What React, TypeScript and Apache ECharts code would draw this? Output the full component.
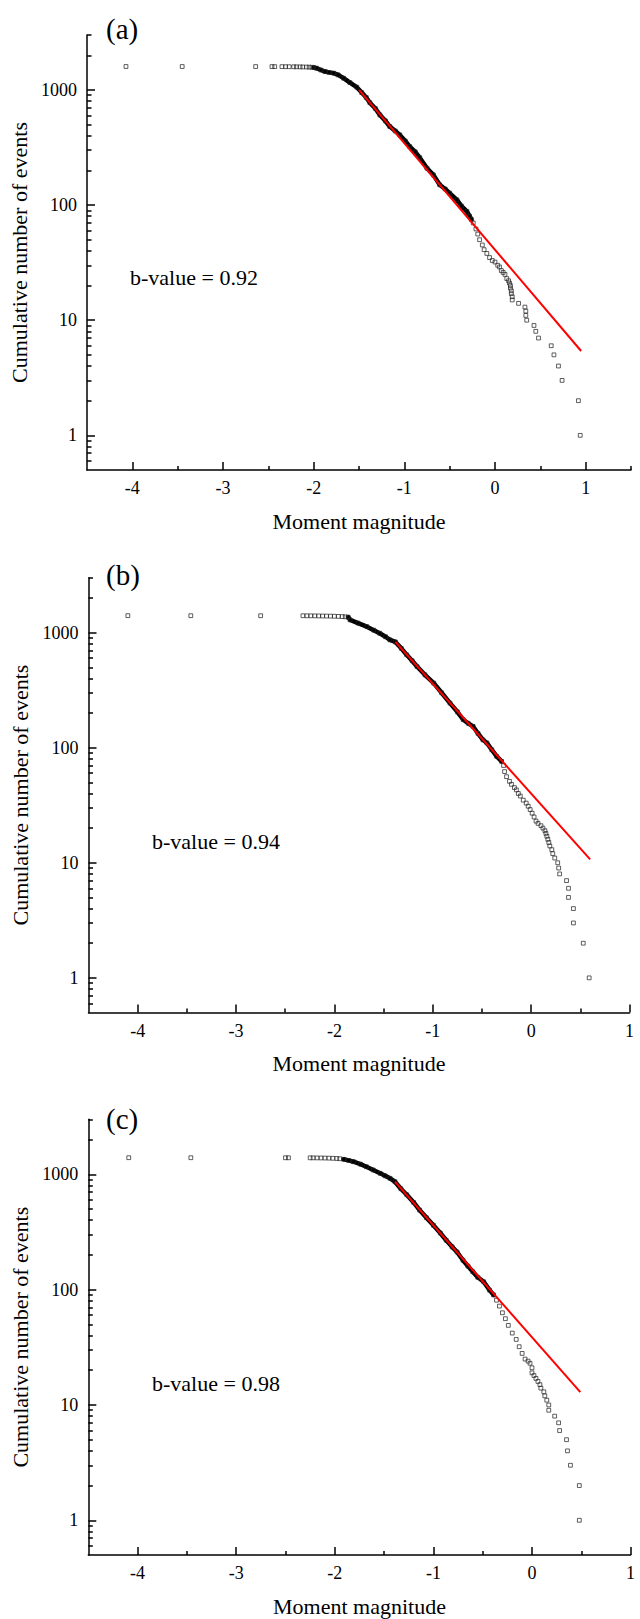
import React, { useEffect, useRef } from "react";
import * as echarts from "echarts";

const FONT = "'Liberation Serif', 'Times New Roman', serif";

// ---------- Panel (a) ----------
const aHead = [[-4.07,1598],[-3.45,1597],[-2.64,1596],[-2.46,1595],[-2.43,1594],[-2.35,1593],[-2.31,1592],[-2.27,1591],[-2.22,1589],[-2.19,1588],[-2.15,1586],[-2.12,1584],[-2.08,1581],[-2.05,1578],[-2.02,1574]];
const aDense = [[-2.0,1565],[-1.97,1545],[-1.92,1490],[-1.875,1445],[-1.83,1420],[-1.78,1399],[-1.73,1352],[-1.67,1265],[-1.6,1158],[-1.525,1057],[-1.47,948],[-1.42,860],[-1.38,775],[-1.32,690],[-1.27,607],[-1.21,540],[-1.16,481],[-1.1,440],[-1.05,407],[-0.99,360],[-0.94,322],[-0.88,290],[-0.83,258],[-0.75,209],[-0.68,183],[-0.61,150],[-0.55,138],[-0.5,127],[-0.42,111],[-0.37,98],[-0.31,88],[-0.28,80],[-0.26,75]];
const aTail = [[-0.24,70],[-0.21,62],[-0.19,56],[-0.17,50],[-0.14,45],[-0.12,41],[-0.09,38],[-0.06,35],[-0.03,33],[0.0,32],[0.03,30],[0.05,29],[0.07,27],[0.09,26],[0.11,25],[0.13,23],[0.15,22],[0.16,21],[0.17,20],[0.17,19],[0.18,18],[0.18,17],[0.19,16],[0.19,15],[0.26,14],[0.33,13],[0.34,12],[0.34,11],[0.35,10],[0.43,9],[0.45,8],[0.48,7],[0.62,6],[0.65,5],[0.7,4],[0.74,3],[0.92,2],[0.94,1]];
const aFit = [[-1.5,1000],[0.95,5.4]];

// ---------- Panel (b) ----------
const bHead = [[-4.1,1404],[-3.46,1403],[-2.75,1402],[-2.32,1401],[-2.28,1400],[-2.24,1399],[-2.2,1398],[-2.16,1396],[-2.12,1394],[-2.08,1392],[-2.04,1390],[-2.0,1387],[-1.96,1383],[-1.92,1378],[-1.89,1372]];
const bDense = [[-1.86,1362],[-1.84,1290],[-1.76,1210],[-1.67,1127],[-1.6,1050],[-1.54,988],[-1.48,920],[-1.435,865],[-1.38,830],[-1.32,730],[-1.265,641],[-1.21,570],[-1.16,507],[-1.08,430],[-0.99,364],[-0.91,300],[-0.825,244],[-0.75,205],[-0.69,175],[-0.64,163],[-0.59,153],[-0.54,133],[-0.49,117],[-0.45,110],[-0.4,96],[-0.35,84],[-0.3,76]];
const bTail = [[-0.28,70],[-0.27,62],[-0.25,56],[-0.22,51],[-0.2,48],[-0.17,45],[-0.15,43],[-0.13,40],[-0.11,38],[-0.08,35],[-0.05,33],[-0.03,31],[-0.01,29],[0.01,27],[0.03,25],[0.05,23],[0.07,22],[0.1,21],[0.12,20],[0.14,19],[0.15,18],[0.16,17],[0.17,16],[0.18,15],[0.19,14],[0.21,13],[0.22,12],[0.24,11],[0.27,10],[0.28,9],[0.29,8],[0.36,7],[0.38,6],[0.38,5],[0.43,4],[0.43,3],[0.53,2],[0.59,1]];
const bFit = [[-1.38,830],[0.6,10.7]];

// ---------- Panel (c) ----------
const cHead = [[-4.09,1394],[-3.46,1393],[-2.5,1392],[-2.47,1391],[-2.25,1390],[-2.22,1389],[-2.18,1388],[-2.14,1386],[-2.1,1384],[-2.06,1381],[-2.02,1377],[-1.98,1372],[-1.95,1365]];
const cDense = [[-1.91,1350],[-1.86,1320],[-1.81,1286],[-1.74,1225],[-1.68,1164],[-1.61,1090],[-1.54,1020],[-1.49,970],[-1.44,923],[-1.39,863],[-1.33,750],[-1.27,665],[-1.2,570],[-1.14,490],[-1.07,420],[-1.0,362],[-0.93,310],[-0.87,268],[-0.81,235],[-0.76,212],[-0.7,180],[-0.65,160],[-0.6,143],[-0.55,128],[-0.49,117],[-0.43,99],[-0.39,90]];
const cTail = [[-0.36,81],[-0.33,72],[-0.3,63],[-0.27,56],[-0.24,49],[-0.2,42],[-0.16,37],[-0.13,32],[-0.1,28],[-0.07,25],[-0.04,24],[-0.02,23],[0.0,21],[0.0,19],[0.02,18],[0.04,17],[0.06,16],[0.08,15],[0.09,14],[0.12,13],[0.13,12],[0.15,11],[0.17,10],[0.17,9],[0.23,8],[0.27,7],[0.28,6],[0.35,5],[0.36,4],[0.39,3],[0.48,2],[0.48,1]];
const cFit = [[-1.39,863],[0.49,12.9]];

// ---------- Axes / labels ----------
const xMajorTicks = [-4, -3, -2, -1, 0, 1];
const xMinorTicksA = [-3.5, -2.5, -1.5, -0.5, 0.5, 1.5];
const xMinorTicksBC = [-3.5, -2.5, -1.5, -0.5, 0.5];
const yMajorTicks = [1, 10, 100, 1000];
const yMinorTicks = [0.6, 0.7, 0.8, 0.9, 2, 3, 4, 5, 6, 7, 8, 9, 20, 30, 40, 50, 60, 70, 80, 90, 200, 300, 400, 500, 600, 700, 800, 900, 2000, 3000];
const panelLetters = ["(a)", "(b)", "(c)"];
const bValueTexts = ["b-value = 0.92", "b-value = 0.94", "b-value = 0.98"];
const xTitle = "Moment magnitude";
const yTitle = "Cumulative number of events";

const panels = [
  { head: aHead, dense: aDense, tail: aTail, fit: aFit, xMax: 1.5, xMinor: xMinorTicksA,
    grid: { left: 87, top: 35, width: 544, height: 435 }, letterPos: [106, 29], bPos: [130, 277] },
  { head: bHead, dense: bDense, tail: bTail, fit: bFit, xMax: 1, xMinor: xMinorTicksBC,
    grid: { left: 88.5, top: 577.7, width: 541, height: 434.8 }, letterPos: [106, 575], bPos: [152, 841] },
  { head: cHead, dense: cDense, tail: cTail, fit: cFit, xMax: 1, xMinor: xMinorTicksBC,
    grid: { left: 88.3, top: 1119.3, width: 542.3, height: 435.7 }, letterPos: [106, 1119], bPos: [152, 1383] },
];

const AX = { color: "#000", width: 1.5 };

export default function App() {
  const ref = useRef<HTMLDivElement>(null);
  useEffect(() => {
    if (!ref.current) return;
    const chart = echarts.init(ref.current, undefined, { renderer: "svg" });
    const grids: any[] = [];
    const xAxis: any[] = [];
    const yAxis: any[] = [];
    const series: any[] = [];
    const graphic: any[] = [];
    panels.forEach((p, i) => {
      grids.push({ ...p.grid, containLabel: false });
      xAxis.push({
        type: "value", gridIndex: i, position: "bottom", min: -4.5, max: p.xMax,
        axisLine: { show: true, onZero: false, lineStyle: AX },
        axisTick: { show: true, inside: true, length: 8, customValues: xMajorTicks, lineStyle: AX },
        axisLabel: { show: true, customValues: xMajorTicks, color: "#000", fontFamily: FONT, fontSize: 18, margin: 9,
          formatter: (v: number) => String(v) },
        splitLine: { show: false },
        name: xTitle, nameLocation: "middle", nameGap: 40,
        nameTextStyle: { color: "#000", fontFamily: FONT, fontSize: 22 },
      });
      xAxis.push({
        type: "value", gridIndex: i, position: "bottom", min: -4.5, max: p.xMax,
        axisLine: { show: false, onZero: false },
        axisTick: { show: true, inside: true, length: 4, customValues: p.xMinor, lineStyle: AX },
        axisLabel: { show: false },
        splitLine: { show: false },
      });
      yAxis.push({
        type: "log", logBase: 10, gridIndex: i, position: "left", min: 0.5, max: 3000,
        axisLine: { show: true, onZero: false, lineStyle: AX },
        axisTick: { show: true, inside: true, length: 8, customValues: yMajorTicks, lineStyle: AX },
        axisLabel: { show: true, customValues: yMajorTicks, color: "#000", fontFamily: FONT, fontSize: 18, margin: 10,
          formatter: (v: number) => String(Math.round(v)) },
        splitLine: { show: false },
        name: yTitle, nameLocation: "middle", nameGap: 52, nameRotate: 90,
        nameTextStyle: { color: "#000", fontFamily: FONT, fontSize: 22 },
      });
      yAxis.push({
        type: "log", logBase: 10, gridIndex: i, position: "left", min: 0.5, max: 3000,
        axisLine: { show: false, onZero: false },
        axisTick: { show: true, inside: true, length: 4.5, customValues: yMinorTicks, lineStyle: AX },
        axisLabel: { show: false },
        splitLine: { show: false },
      });
      const xi = 2 * i, yi = 2 * i;
      series.push({
        type: "line", xAxisIndex: xi, yAxisIndex: yi, data: p.dense, symbol: "none", showSymbol: false,
        lineStyle: { color: "#000", width: 4.5, cap: "round", join: "round" }, z: 2, silent: true,
      });
      series.push({
        type: "scatter", xAxisIndex: xi, yAxisIndex: yi, data: [...p.head, ...p.dense, ...p.tail],
        symbol: "rect", symbolSize: 3.8,
        itemStyle: { color: "rgba(0,0,0,0)", borderColor: "#222", borderWidth: 0.9 }, z: 3, silent: true,
      });
      series.push({
        type: "line", xAxisIndex: xi, yAxisIndex: yi, data: p.fit, symbol: "none", showSymbol: false,
        lineStyle: { color: "#ff0000", width: 2 }, z: 4, silent: true,
      });
      graphic.push({
        type: "text", x: p.letterPos[0], y: p.letterPos[1],
        style: { text: panelLetters[i], fontFamily: FONT, fontSize: 29, fill: "#000", verticalAlign: "middle" },
      });
      graphic.push({
        type: "text", x: p.bPos[0], y: p.bPos[1],
        style: { text: bValueTexts[i], fontFamily: FONT, fontSize: 22, fill: "#000", verticalAlign: "middle" },
      });
    });
    chart.setOption({
      animation: false,
      backgroundColor: "#fff",
      textStyle: { fontFamily: FONT },
      grid: grids,
      xAxis,
      yAxis,
      series,
      graphic,
    });
    return () => chart.dispose();
  }, []);
  return (
    <div
      ref={ref}
      style={{ position: "absolute", left: 0, top: 0, width: 640, height: 1619 }}
    />
  );
}
